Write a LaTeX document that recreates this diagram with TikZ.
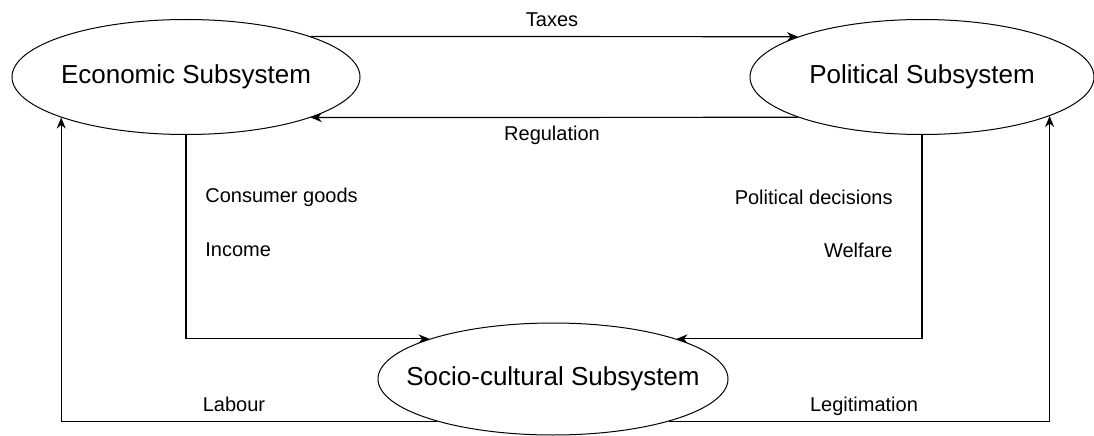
\documentclass[tikz,border=0pt]{standalone}
\usepackage{fontspec}
\setmainfont{Liberation Sans}
\usepackage{tikz}
\usetikzlibrary{shapes, arrows.meta}
\usetikzlibrary{positioning}

\begin{document}
\begin{tikzpicture}[x=0.5pt, y=0.5pt,
  subsys/.style={draw, ellipse, line width=0.5pt, inner xsep=-40pt, inner ysep=0pt, minimum height=57.5pt, font=\fontsize{13}{15}\selectfont},
  flow/.style={line width=0.6pt, -{Stealth[length=5.5pt, width=4.5pt]}},
  lbl/.style={font=\fontsize{10}{12}\selectfont, inner sep=0pt}]
\useasboundingbox (0,0) rectangle (1094,435);

\node[subsys, minimum width=174pt] (eco) at (186,358) {Economic Subsystem};
\node[subsys, minimum width=172pt] (pol) at (922,358) {Political Subsystem};
\node[subsys, minimum width=175pt, minimum height=56pt] (soc) at (553,56) {Socio-cultural Subsystem};

% top arrows
\draw[flow] (eco.18) -- (pol.162);
\node[lbl] (taxes) at (552,415) {Taxes};
\draw[flow] (pol.198) -- (eco.-18);
\node[lbl] (regulation) at (552,300) {Regulation};

% down to socio-cultural
\draw[flow] (eco.south) |- (soc.162);
\node[lbl, anchor=west] (goods) at (205,238) {Consumer goods};
\node[lbl, anchor=west] (income) at (205,185) {Income};
\draw[flow] (pol.south) |- (soc.18);
\node[lbl, anchor=east] (decisions) at (893,238) {Political decisions};
\node[lbl, anchor=east] (welfare) at (893,185) {Welfare};

% back up
\draw[flow] (soc.200) -| (eco.198);
\node[lbl, anchor=base] (labour) at (234,24) {Labour};
\draw[flow] (soc.-20) -| (pol.-17);
\node[lbl, anchor=base] (legit) at (864,24) {Legitimation};

\end{tikzpicture}
\end{document}
